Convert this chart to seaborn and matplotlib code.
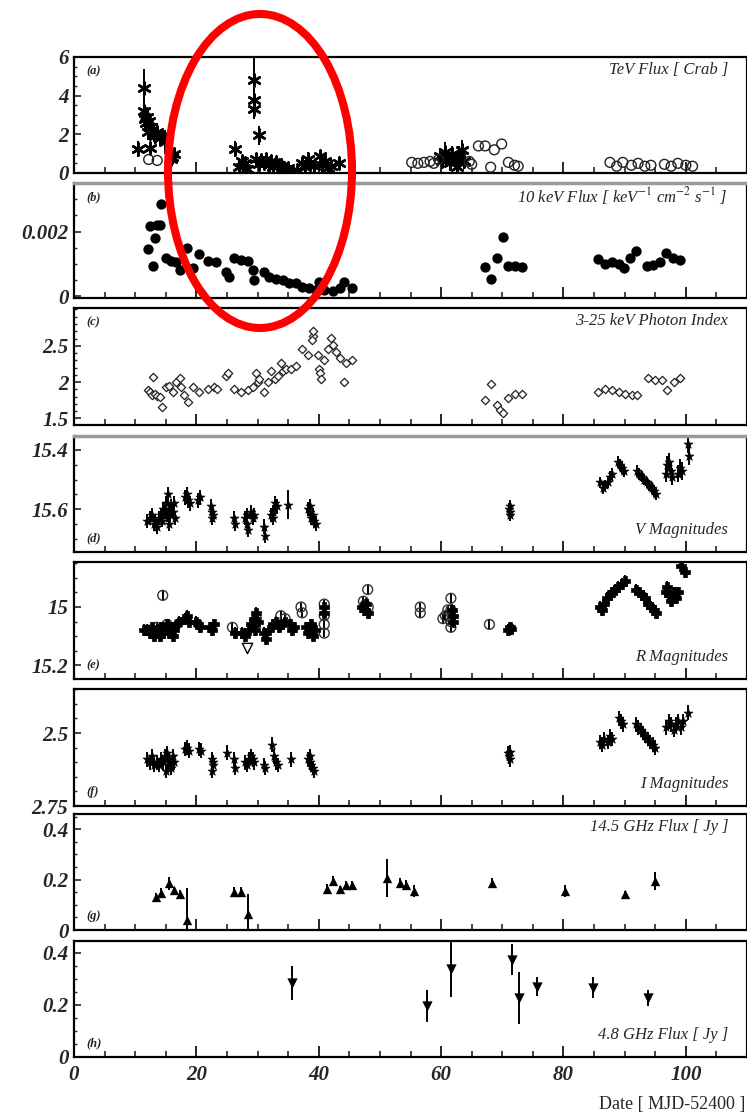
import matplotlib
matplotlib.use("Agg")
import matplotlib.pyplot as plt
import matplotlib.ticker as ticker
from matplotlib.patches import Ellipse
import seaborn as sns

sns.set_theme(style="ticks")
plt.rcParams['font.family'] = ['Liberation Serif', 'DejaVu Serif']
plt.rcParams['mathtext.fontset'] = 'stix'

# ---------------- data ----------------
# (a) TeV flux, asterisks
tev_day = [10.4, 11.4, 11.5, 11.6, 11.8, 12.0, 12.1, 12.3, 12.5, 12.7, 13.0, 13.3, 13.6, 14.0,
           14.4, 12.4, 14.8, 16.0, 16.4, 15.8,
           26.3, 27.0, 27.5, 28.0, 28.3, 29.5, 29.5, 29.5, 30.3, 29.8, 30.2, 30.6, 31.0, 31.4,
           31.8, 32.2, 32.6, 33.0, 33.5, 34.0, 34.5, 35.0, 36.5, 37.3, 37.8, 38.2, 38.6, 39.2,
           40.2, 40.5, 41.0, 41.5, 42.0, 43.3,
           59.8, 60.2, 60.6, 61.0, 61.4, 61.8, 62.2, 62.6, 63.0, 63.4, 63.8]
tev_flux = [1.25, 4.4, 3.2, 2.8, 2.6, 2.9, 2.1, 2.7, 2.4, 2.2, 2.0, 1.9, 2.1, 1.8,
            1.9, 1.3, 1.6, 0.85, 1.0, 0.7,
            1.25, 0.3, 0.6, 0.5, 0.2, 4.8, 3.8, 3.3, 1.95, 0.7, 0.45, 0.65, 0.5, 0.7,
            0.4, 0.6, 0.3, 0.55, 0.4, 0.3, 0.2, 0.25, 0.15, 0.5, 0.3, 0.7, 0.45, 0.35,
            0.9, 0.4, 0.6, 0.25, 0.35, 0.5,
            0.9, 0.6, 1.1, 0.8, 0.5, 1.0, 0.7, 0.3, 0.9, 1.2, 0.6]
tev_err = [0.4, 1.0, 0.6, 0.5, 0.5, 0.5, 0.4, 0.4, 0.4, 0.4, 0.4, 0.4, 0.5, 0.4,
           0.4, 0.3, 0.6, 0.3, 0.3, 0.3,
           0.4, 0.3, 0.3, 0.3, 0.3, 1.2, 0.6, 0.5, 0.5, 0.3, 0.3, 0.3, 0.3, 0.3,
           0.3, 0.3, 0.3, 0.3, 0.3, 0.3, 0.3, 0.3, 0.3, 0.3, 0.3, 0.4, 0.3, 0.3,
           0.3, 0.3, 0.3, 0.3, 0.3, 0.3,
           0.4, 0.4, 0.5, 0.4, 0.4, 0.4, 0.4, 0.4, 0.5, 0.5, 0.4]
# (a) TeV flux, open circles
tevc_day = [12.2, 13.6, 55.2, 56.2, 57.2, 58.2, 58.8, 59.6, 64.6, 65.0, 66.1, 67.2, 68.1, 68.7,
            69.9, 71.0, 72.0, 72.6,
            87.6, 88.7, 89.7, 91.1, 92.2, 93.3, 94.3, 96.5, 97.6, 98.7, 100.0, 101.1]
tevc_flux = [0.7, 0.65, 0.55, 0.5, 0.55, 0.6, 0.5, 0.7, 0.6, 0.45, 1.4, 1.4, 0.3, 1.2,
             1.5, 0.55, 0.4, 0.35,
             0.55, 0.35, 0.55, 0.4, 0.5, 0.35, 0.4, 0.45, 0.35, 0.5, 0.4, 0.35]

# (b) 10 keV flux
xf_day = [12.1, 12.9, 12.4, 13.5, 13.2, 14.3, 14.0, 15.1, 15.9, 16.6, 17.3, 18.4, 19.4, 20.5,
          21.9, 23.2, 24.9, 25.3, 26.2, 27.3, 28.4, 29.2, 29.5, 31.1, 31.9, 33.0, 34.1, 35.2,
          36.3, 37.3, 38.4, 39.5, 40.1, 40.9, 42.3, 43.4, 44.2, 45.5,
          67.1, 68.2, 69.1, 70.1, 71.0, 72.1, 73.2,
          85.7, 86.8, 87.9, 89.0, 89.9, 90.9, 91.9, 93.6, 94.7, 95.8, 96.7, 97.9, 99.0]
xf_flux = [0.00147, 0.00095, 0.00218, 0.0022, 0.0018, 0.00286, 0.0022, 0.0012, 0.0011, 0.00105,
           0.0008, 0.00148, 0.00089, 0.0013, 0.0011, 0.00105, 0.00074, 0.0006, 0.00117, 0.00113,
           0.0011, 0.0008, 0.0005, 0.00074, 0.0006, 0.00055, 0.0005, 0.0004, 0.0004, 0.0003,
           0.00025, 0.0002, 0.00044, 0.0002, 0.00018, 0.00025, 0.00045, 0.00025,
           0.0009, 0.00054, 0.0012, 0.00182, 0.00095, 0.00093, 0.0009,
           0.00114, 0.001, 0.00105, 0.001, 0.00088, 0.0012, 0.0014, 0.00093, 0.00096, 0.00105,
           0.00133, 0.0012, 0.00113]

# (c) 3-25 keV photon index
pi_day = [12.1, 12.4, 12.9, 12.8, 13.2, 13.6, 14.4, 14.0, 15.1, 15.6, 16.2, 16.7, 17.3, 17.5,
          17.9, 18.6, 19.4, 20.5, 21.9, 22.9, 23.3, 24.9, 25.2, 26.2, 27.3, 28.4, 29.2, 29.8,
          30.0, 30.3, 31.1, 31.7, 32.2, 32.8, 33.3, 33.8, 34.1, 34.6, 35.4, 36.3, 37.3, 38.2,
          39.0, 39.1, 38.9, 39.8, 40.1, 40.2, 40.3, 40.9, 41.5, 42.0, 42.3, 42.8, 43.4, 44.2,
          44.5, 45.5,
          67.1, 68.2, 69.1, 69.6, 70.1, 71.0, 72.1, 73.2,
          85.7, 86.8, 87.9, 89.0, 90.1, 91.2, 92.0, 93.9, 95.0, 96.1, 96.9, 98.0, 99.1]
pi_val = [1.89, 1.86, 2.07, 1.82, 1.84, 1.81, 1.66, 1.79, 1.93, 1.95, 1.86, 2.0, 2.06, 1.93,
          1.82, 1.73, 1.93, 1.86, 1.9, 1.93, 1.91, 2.09, 2.12, 1.91, 1.87, 1.89, 1.93, 2.13,
          2.0, 2.04, 1.86, 2.0, 2.15, 2.04, 2.09, 2.27, 2.15, 2.18, 2.18, 2.22, 2.45, 2.38,
          2.64, 2.7, 2.58, 2.38, 2.18, 2.13, 2.04, 2.3, 2.45, 2.61, 2.51, 2.42, 2.33, 2.0,
          2.27, 2.3,
          1.75, 1.97, 1.68, 1.61, 1.57, 1.78, 1.84, 1.84,
          1.86, 1.9, 1.89, 1.86, 1.84, 1.82, 1.82, 2.05, 2.03, 2.03, 1.89, 2.0, 2.05]

# (d) V magnitudes
v_day = [12.0, 12.4, 12.8, 13.0, 13.3, 13.6, 13.9, 14.2, 14.5, 14.8, 15.0, 15.2, 15.3, 15.5,
         15.7, 15.9, 16.1, 16.3, 16.5, 15.6, 14.4,
         18.2, 18.5, 18.7, 18.9, 20.3, 20.6, 22.4, 22.6, 22.8, 22.5, 26.2, 26.3,
         28.0, 28.2, 28.4, 28.3, 29.0, 29.3, 29.5, 31.1, 31.2, 32.2, 32.5, 32.8, 33.1, 32.6,
         35.0, 38.2, 38.5, 38.8, 39.1, 39.3, 39.5, 38.6,
         71.2, 71.2, 71.1, 71.3,
         86.0, 86.4, 86.8, 87.2, 87.6, 87.9, 88.9, 89.2, 89.6, 89.9,
         92.0, 92.4, 92.8, 93.2, 93.6, 94.0, 94.4, 94.8, 95.2,
         96.8, 97.0, 97.2, 97.5, 97.8, 98.8, 99.1, 99.4, 100.4, 100.6]
v_mag = [15.64, 15.63, 15.62, 15.65, 15.64, 15.66, 15.63, 15.62, 15.60, 15.61, 15.58, 15.62, 15.55,
         15.60, 15.62, 15.59, 15.61, 15.58, 15.63, 15.65, 15.64,
         15.56, 15.55, 15.57, 15.58, 15.57, 15.56, 15.59, 15.61, 15.62, 15.63, 15.63, 15.65,
         15.63, 15.65, 15.67, 15.62, 15.61, 15.63, 15.62, 15.66, 15.69, 15.62, 15.61, 15.58,
         15.59, 15.63,
         15.585, 15.60, 15.61, 15.63, 15.62, 15.64, 15.65, 15.59,
         15.59, 15.61, 15.60, 15.62,
         15.51, 15.53, 15.52, 15.51, 15.49, 15.48, 15.44, 15.45, 15.46, 15.47,
         15.47, 15.48, 15.49, 15.50, 15.51, 15.52, 15.53, 15.54, 15.55,
         15.48, 15.45, 15.44, 15.47, 15.49, 15.48, 15.46, 15.47, 15.38, 15.42]
v_err = [0.025] * 20 + [0.02] + [0.025] * 26 + [0.05] + [0.025] * 7 + [0.02] * 4 + \
        [0.02] * 19 + [0.03] * 10

# (e) R magnitudes, filled crosses
r_day = [11.5, 12.0, 12.4, 12.8, 13.1, 13.4, 13.7, 14.0, 14.3, 14.6, 14.9, 15.2, 15.5, 15.8,
         16.1, 16.4, 16.8, 17.2, 18.2, 18.5, 18.8, 20.0, 20.3, 20.6, 22.3, 22.6, 22.9,
         26.3, 27.5, 27.9, 28.6, 29.0, 29.4, 29.8, 30.0, 29.6, 31.0, 31.4, 31.8,
         32.6, 33.0, 33.5, 34.0, 34.5, 35.3, 35.7, 36.0, 37.9, 38.2, 38.5, 38.8, 39.1, 39.4,
         40.9, 40.9, 47.0, 47.4, 47.7, 48.0, 61.8, 62.0, 61.9, 71.2, 71.0, 71.4,
         86.0, 86.3, 86.7, 87.1, 87.6, 88.0, 88.5, 88.9, 89.5, 90.0,
         91.8, 92.3, 92.8, 93.3, 93.8, 94.3, 94.8, 95.1,
         96.8, 97.0, 97.3, 97.6, 98.0, 98.4, 98.8, 99.2, 99.9]
r_mag = [15.08, 15.08, 15.09, 15.07, 15.10, 15.09, 15.08, 15.10, 15.07, 15.09, 15.08, 15.06,
         15.09, 15.07, 15.10, 15.08, 15.06, 15.05, 15.04, 15.03, 15.05, 15.05, 15.06, 15.07,
         15.07, 15.08, 15.06,
         15.09, 15.09, 15.10, 15.08, 15.06, 15.04, 15.02, 15.05, 15.08, 15.09, 15.11, 15.08,
         15.06, 15.05, 15.07, 15.06, 15.05, 15.06, 15.08, 15.07, 15.07, 15.09, 15.08, 15.06,
         15.10, 15.08,
         15.02, 15.00, 15.00, 15.01, 14.99, 15.02, 15.01, 15.03, 15.05, 15.07, 15.08, 15.075,
         15.00, 15.01, 14.99, 14.97, 14.96, 14.95, 14.94, 14.93, 14.92, 14.91,
         14.94, 14.95, 14.96, 14.97, 14.99, 15.00, 15.01, 15.02,
         14.95, 14.93, 14.96, 14.98, 14.95, 14.97, 14.95, 14.86, 14.88]
# (e) R magnitudes, open circles
rc_day = [14.5, 12.2, 13.5, 15.2, 25.9, 29.8, 33.8, 34.5, 37.1, 37.3, 40.9, 40.9, 40.9, 40.9,
          47.3, 48.0, 48.1, 56.6, 56.6, 60.3, 60.7, 61.1, 61.6, 61.6, 61.6, 61.6, 67.9]
rc_mag = [14.96, 15.08, 15.07, 15.06, 15.07, 15.04, 15.03, 15.04, 15.00, 15.02, 14.99, 15.03,
          15.06, 15.09, 14.98, 14.94, 15.00, 15.00, 15.02, 15.04, 15.03, 15.01, 14.97, 15.01,
          15.05, 15.07, 15.06]
# (e) R magnitudes, open triangle
rt_day = [28.2]
rt_mag = [15.14]

# (f) I magnitudes
i_day = [12.0, 12.4, 12.8, 13.1, 13.5, 13.9, 14.2, 14.6, 14.9, 15.2, 15.3, 15.6, 15.9, 16.1,
         16.4, 15.0, 18.2, 18.5, 18.8, 20.5, 20.7, 22.5, 22.7, 22.6, 22.8, 25.0, 26.1, 26.3,
         28.0, 28.3, 28.6, 29.0, 29.3, 29.5, 31.1, 31.3, 32.4, 32.7, 33.0, 33.3, 35.5,
         38.2, 38.5, 38.8, 39.1, 39.3, 38.6,
         71.0, 71.1, 71.2, 71.3,
         86.0, 86.3, 86.7, 87.2, 87.6, 87.9, 89.0, 89.4, 89.8,
         91.8, 92.2, 92.6, 93.0, 93.4, 93.8, 94.2, 94.6, 95.0,
         96.8, 97.2, 97.6, 98.0, 98.4, 98.8, 99.2, 99.6, 100.4]
i_mag = [2.59, 2.60, 2.58, 2.61, 2.60, 2.61, 2.59, 2.60, 2.58, 2.57, 2.61, 2.59, 2.62, 2.58,
         2.60, 2.63, 2.555, 2.55, 2.56, 2.555, 2.56, 2.59, 2.61, 2.63, 2.60, 2.567, 2.59, 2.62,
         2.60, 2.61, 2.59, 2.58, 2.59, 2.60, 2.61, 2.62, 2.54, 2.58, 2.60, 2.61, 2.59,
         2.59, 2.60, 2.61, 2.62, 2.63, 2.58,
         2.57, 2.58, 2.59, 2.565,
         2.53, 2.54, 2.52, 2.53, 2.51, 2.52, 2.45, 2.46, 2.47,
         2.47, 2.48, 2.49, 2.50, 2.51, 2.52, 2.53, 2.54, 2.55,
         2.48, 2.46, 2.47, 2.49, 2.47, 2.46, 2.48, 2.46, 2.43]

# (g) 14.5 GHz flux
g_day = [13.4, 14.3, 15.5, 16.4, 17.4, 18.5, 26.2, 27.3, 28.4, 41.4, 42.3, 43.4, 44.5, 45.5,
         51.2, 53.3, 54.3, 55.6, 68.3, 80.2, 90.0, 95.0]
g_flux = [0.13, 0.148, 0.185, 0.157, 0.142, 0.041, 0.152, 0.152, 0.062, 0.161, 0.196, 0.161,
          0.18, 0.18, 0.206, 0.187, 0.18, 0.155, 0.187, 0.155, 0.142, 0.194]
g_err = [0.015, 0.02, 0.025, 0.015, 0.015, 0.127, 0.02, 0.02, 0.08, 0.02, 0.02, 0.015,
         0.015, 0.015, 0.075, 0.02, 0.02, 0.025, 0.02, 0.025, 0.012, 0.035]

# (h) 4.8 GHz flux
h_day = [35.7, 57.7, 61.6, 71.6, 72.7, 75.6, 84.8, 93.75]
h_flux = [0.285, 0.196, 0.336, 0.374, 0.227, 0.27, 0.266, 0.227]
h_err = [0.065, 0.06, 0.105, 0.06, 0.1, 0.035, 0.04, 0.03]

# ---------------- figure ----------------
W, H = 747, 1118
fig = plt.figure(figsize=(W / 100, H / 100), dpi=100)
X0 = 74


def panel(top, bottom):
    return fig.add_axes([X0 / W, 1 - bottom / H, (W - X0) / W, (bottom - top) / H])


tick_font = dict(fontsize=15, fontweight='bold', fontstyle='italic')
lab_font = dict(fontsize=12, fontstyle='italic', family='Liberation Serif')


def style(ax, ylim, yticks, yminor, letter, text, text_top=True, letter_top=False,
          xlabels=False):
    ax.set_xlim(0, 110)
    ax.set_ylim(*ylim)
    ax.set_yticks(yticks, labels=[f'{t:g}' for t in yticks], **tick_font)
    ax.yaxis.set_minor_locator(ticker.MultipleLocator(yminor))
    ax.xaxis.set_major_locator(ticker.MultipleLocator(20))
    ax.xaxis.set_minor_locator(ticker.MultipleLocator(5))
    if xlabels:
        ticks = [0, 20, 40, 60, 80, 100]
        ax.set_xticks(ticks, labels=[str(t) for t in ticks], **tick_font)
    else:
        ax.set_xticklabels([])
    ax.tick_params(axis='x', which='major', direction='in', length=8, width=1.4,
                   top=False, bottom=True, pad=6)
    ax.tick_params(axis='x', which='minor', direction='in', length=4.5, width=1.2,
                   top=False, bottom=True)
    ax.tick_params(axis='y', which='major', direction='in', length=5, width=1.2,
                   right=False, pad=4)
    ax.tick_params(axis='y', which='minor', direction='in', length=2.5, width=1.0,
                   right=False)
    for s in ax.spines.values():
        s.set_color('black')
        s.set_linewidth(1.6)
    ax.set_xlabel('')
    ax.set_ylabel('')
    ax.text(0.018, 0.88 if letter_top else 0.12, letter, transform=ax.transAxes,
            fontsize=9, fontstyle='italic', fontweight='bold', ha='left', va='center')
    ax.text(0.972, 0.89 if text_top else 0.19, text, transform=ax.transAxes,
            ha='right', va='center', **lab_font)


err_kw = dict(fmt='none', ecolor='black', elinewidth=1.4, capsize=0, zorder=2)

# (a)
ax = panel(57, 173)
ax.errorbar(tev_day, tev_flux, yerr=tev_err, **err_kw)
sns.scatterplot(x=tev_day, y=tev_flux, marker=(6, 2, 0), s=75, color='black',
                edgecolor='black', linewidth=1.8, ax=ax, zorder=3)
sns.scatterplot(x=tevc_day, y=tevc_flux, marker='o', s=50, facecolor='none',
                edgecolor='#222222', linewidth=1.0, ax=ax, zorder=3)
style(ax, (0, 6), [0, 2, 4, 6], 0.5, '(a)', 'TeV Flux [ Crab ]', letter_top=True)

# (b)
ax = panel(183, 298)
sns.scatterplot(x=xf_day, y=xf_flux, marker='o', s=55, color='black', linewidth=0,
                ax=ax, zorder=3)
style(ax, (-0.00005, 0.0035), [0, 0.002], 0.0005, '(b)',
      r'10 keV Flux [ keV$^{-1}$ cm$^{-2}$ s$^{-1}$ ]', letter_top=True)
ax.spines['top'].set_color('#9a9a9a')
ax.spines['top'].set_linewidth(2.5)

# (c)
ax = panel(308, 425)
sns.scatterplot(x=pi_day, y=pi_val, marker='D', s=18, facecolor='white',
                edgecolor='#222222', linewidth=0.9, ax=ax, zorder=3)
style(ax, (1.41, 3.02), [1.5, 2, 2.5], 0.1, '(c)', '3-25 keV Photon Index',
      letter_top=True)

# (d)
ax = panel(436, 552)
ax.errorbar(v_day, v_mag, yerr=v_err, **err_kw)
sns.scatterplot(x=v_day, y=v_mag, marker='*', s=45, color='black', edgecolor='black',
                linewidth=0.5, ax=ax, zorder=3)
style(ax, (15.745, 15.353), [15.4, 15.6], 0.05, '(d)', 'V Magnitudes', text_top=False)
ax.spines['top'].set_color('#9a9a9a')
ax.spines['top'].set_linewidth(2.5)

# (e)
ax = panel(562, 679)
ax.errorbar(r_day, r_mag, yerr=0.02, **err_kw)
ax.errorbar(rc_day, rc_mag, yerr=0.015, **err_kw)
sns.scatterplot(x=rc_day, y=rc_mag, marker='o', s=50, facecolor='none',
                edgecolor='#333333', linewidth=1.0, ax=ax, zorder=3)
sns.scatterplot(x=r_day, y=r_mag, marker='P', s=55, facecolor='black',
                edgecolor='black', linewidth=0.5, ax=ax, zorder=4)
sns.scatterplot(x=rt_day, y=rt_mag, marker='v', s=55, facecolor='white',
                edgecolor='black', linewidth=1.0, ax=ax, zorder=4)
style(ax, (15.248, 14.845), [15, 15.2], 0.05, '(e)', 'R Magnitudes', text_top=False)

# (f)
ax = panel(689, 806)
ax.errorbar(i_day, i_mag, yerr=0.025, **err_kw)
sns.scatterplot(x=i_day, y=i_mag, marker='*', s=45, color='black', edgecolor='black',
                linewidth=0.5, ax=ax, zorder=3)
style(ax, (2.75, 2.349), [2.5, 2.75], 0.05, '(f)', 'I Magnitudes', text_top=False)

# (g)
ax = panel(814, 930)
ax.errorbar(g_day, g_flux, yerr=g_err, **err_kw)
sns.scatterplot(x=g_day, y=g_flux, marker='^', s=45, color='black', linewidth=0,
                ax=ax, zorder=3)
style(ax, (0, 0.46), [0, 0.2, 0.4], 0.05, '(g)', '14.5 GHz Flux [ Jy ]')

# (h)
ax = panel(941, 1057)
ax.errorbar(h_day, h_flux, yerr=h_err, **err_kw)
sns.scatterplot(x=h_day, y=h_flux, marker='v', s=55, color='black', linewidth=0,
                ax=ax, zorder=3)
style(ax, (0, 0.445), [0, 0.2, 0.4], 0.05, '(h)', '4.8 GHz Flux [ Jy ]', text_top=False,
      xlabels=True)

fig.text(745 / W, 1 - 1105 / H, 'Date [ MJD-52400 ]', ha='right', va='center',
         fontsize=13, family='Liberation Serif')

# red highlight ellipse drawn over panels (a) and (b)
fig.patches.append(Ellipse((260 / W, 1 - 171 / H), 184 / W, 314 / H, fill=False,
                           edgecolor='red', linewidth=5.8, transform=fig.transFigure,
                           zorder=10))

fig.savefig('out.png', dpi=100)
